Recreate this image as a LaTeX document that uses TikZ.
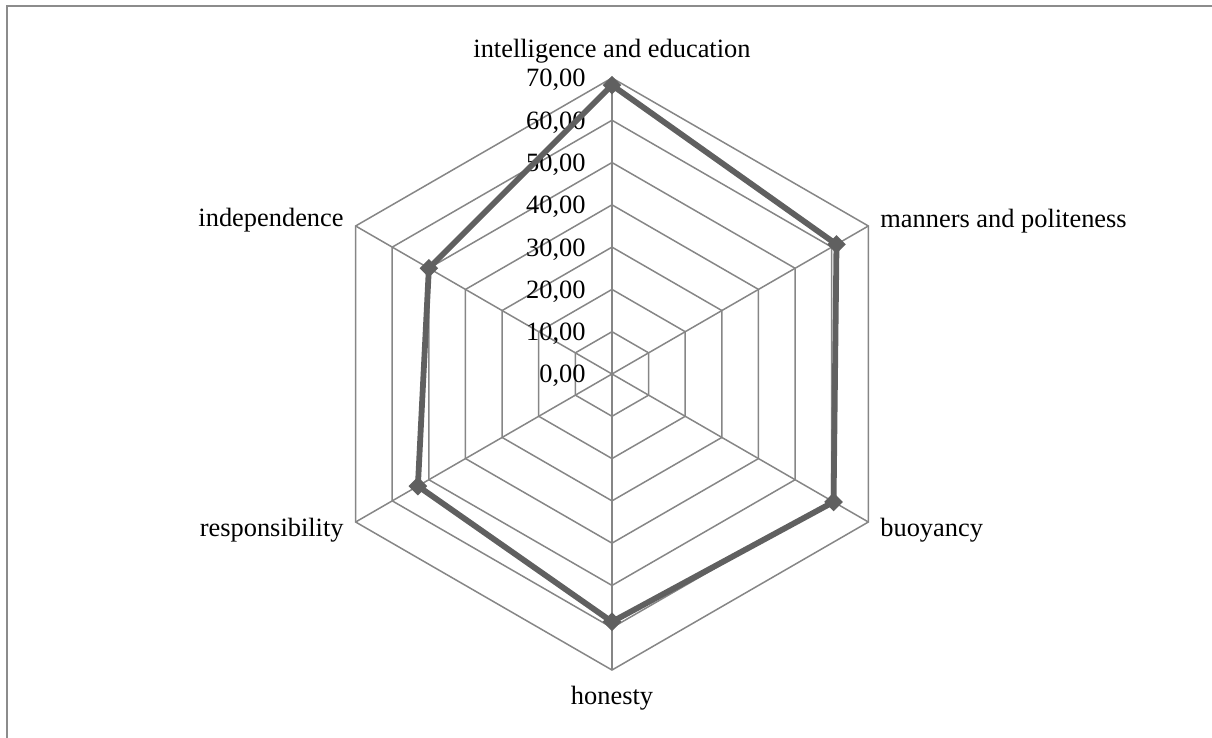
\documentclass[tikz,border=0pt]{standalone}
\usepackage{fontspec}
\setmainfont{Liberation Serif}
\usetikzlibrary{shapes,positioning,calc}
\definecolor{gridgray}{RGB}{134,134,134}
\definecolor{seriesgray}{RGB}{96,96,96}
\definecolor{framegray}{RGB}{140,140,140}

\begin{document}
\begin{tikzpicture}[x=0.5pt, y=0.5pt,
    grid/.style={draw=gridgray, line width=0.75pt},
    series/.style={draw=seriesgray, line width=2.9pt, line join=round},
    marker/.style={diamond, fill=seriesgray, inner sep=0pt, minimum size=9.5pt},
    axislabel/.style={font=\fontsize{13.2}{15}\selectfont, inner sep=0pt},
    ticklabel/.style={font=\fontsize{13.2}{15}\selectfont, anchor=base east, inner sep=0pt}
]
    \useasboundingbox (-612,-364) rectangle (600,374);
    \draw[framegray, line width=1pt] (-605,-364) -- (-605,368) -- (600,368);

    % rings and spokes
    \foreach \r in {1,...,7} {
        \draw[grid] (90:\r*42.29) -- (30:\r*42.29) -- (-30:\r*42.29) -- (-90:\r*42.29) -- (-150:\r*42.29) -- (150:\r*42.29) -- cycle;
    }
    \foreach \a in {90,30,-30,-90,-150,150} {
        \draw[grid] (0,0) -- (\a:296);
    }
    \foreach \v in {0,...,7} {
        \pgfmathtruncatemacro\val{\v*10}
        \node[ticklabel] (tick\v) at (-26,\v*42.29-9) {\ifnum\v=0 0\else\val\fi,00};
    }

    % data
    \coordinate (pIntel) at (90:68.3*4.229);
    \coordinate (pManners) at (30:61.3*4.229);
    \coordinate (pBuoy) at (-30:60.5*4.229);
    \coordinate (pHonest) at (-90:58.6*4.229);
    \coordinate (pResp) at (-150:53*4.229);
    \coordinate (pIndep) at (150:50*4.229);
    \draw[series] (pIntel) -- (pManners) -- (pBuoy) -- (pHonest) -- (pResp) -- (pIndep) -- cycle;
    \foreach \p in {Intel,Manners,Buoy,Honest,Resp,Indep} {
        \node[marker] (m\p) at (p\p) {};
    }

    % axis labels
    \node[axislabel, anchor=base] (intel) at (0,316) {intelligence and education};
    \node[axislabel, anchor=base west] (manners) at (268,146) {manners and politeness};
    \node[axislabel, anchor=base west] (buoy) at (268,-163) {buoyancy};
    \node[axislabel, anchor=base] (honest) at (0,-331) {honesty};
    \node[axislabel, anchor=base east] (resp) at (-268,-163) {responsibility};
    \node[axislabel, anchor=base east] (indep) at (-268,147) {independence};
\end{tikzpicture}
\end{document}
